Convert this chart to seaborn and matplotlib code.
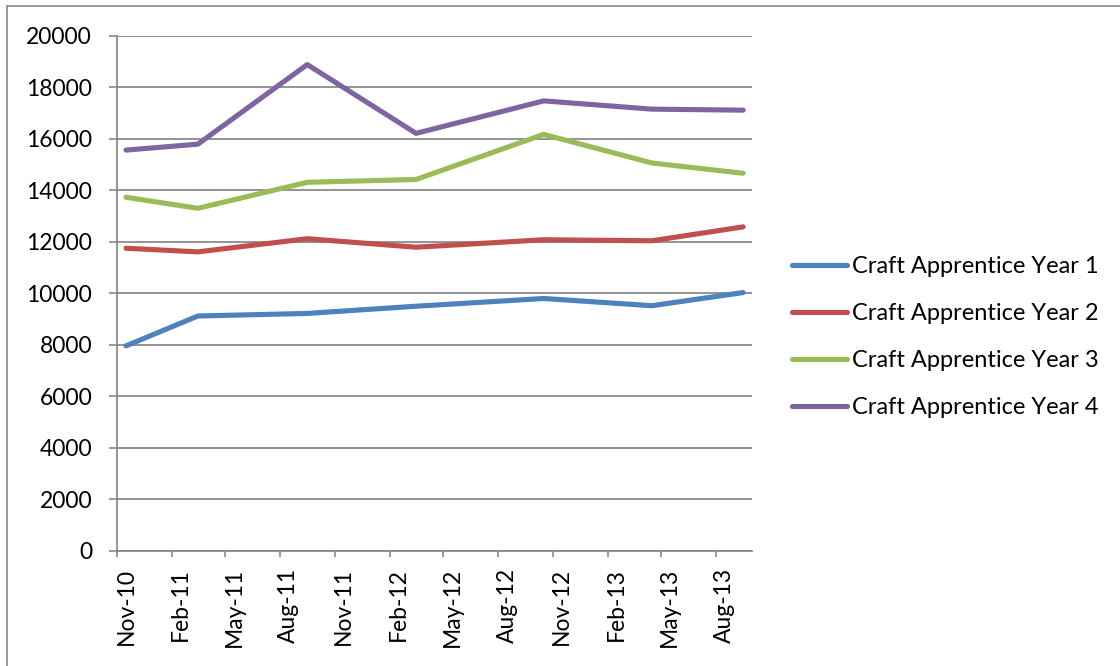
import matplotlib
matplotlib.use("Agg")
import matplotlib.pyplot as plt
import matplotlib.dates as mdates
from matplotlib.patches import Rectangle
import pandas as pd
import seaborn as sns

# Survey months and average rates for each apprentice year
months = ["2010-11", "2011-03", "2011-09", "2012-03", "2012-10", "2013-04", "2013-09"]
year1 = [7960, 9120, 9220, 9500, 9800, 9520, 10030]
year2 = [11750, 11610, 12120, 11790, 12080, 12040, 12580]
year3 = [13730, 13300, 14310, 14420, 16170, 15060, 14660]
year4 = [15560, 15790, 18880, 16210, 17470, 17150, 17110]
series_names = ["Craft Apprentice Year 1", "Craft Apprentice Year 2",
                "Craft Apprentice Year 3", "Craft Apprentice Year 4"]
colors = ["#4F81BD", "#C0504D", "#9BBB59", "#8064A2"]

# each monthly value sits in the middle of its month
periods = pd.PeriodIndex(months, freq="M")
mid = periods.start_time + (periods.end_time - periods.start_time) / 2

frames = []
for name, vals in zip(series_names, [year1, year2, year3, year4]):
    frames.append(pd.DataFrame({"date": mid, "value": vals, "series": name}))
df = pd.concat(frames, ignore_index=True)

sns.set_theme(style="white")
plt.rcParams["font.family"] = ["Lato", "DejaVu Sans"]
plt.rcParams["font.size"] = 16
plt.rcParams["text.color"] = "black"
plt.rcParams["xtick.labelcolor"] = "black"
plt.rcParams["ytick.labelcolor"] = "black"

grey = "#878787"
fig = plt.figure(figsize=(11.2, 6.66), dpi=100)
ax = fig.add_axes([0.1045, 0.1727, 0.567, 0.7737])

sns.lineplot(data=df, x="date", y="value", hue="series", palette=colors,
             linewidth=3.7, solid_capstyle="round", solid_joinstyle="round",
             ax=ax)

ax.set_xlim(pd.Timestamp("2010-11-01"), pd.Timestamp("2013-10-01"))
ax.set_ylim(0, 20000)
ax.set_yticks(range(0, 20001, 2000))
ax.set_xlabel("")
ax.set_ylabel("")

# tick marks on month boundaries, labels centred on the month
ax.xaxis.set_major_locator(mdates.MonthLocator(bymonth=[2, 5, 8, 11]))
ax.xaxis.set_major_formatter(plt.NullFormatter())
ax.xaxis.set_minor_locator(mdates.MonthLocator(bymonth=[2, 5, 8, 11], bymonthday=16))
ax.xaxis.set_minor_formatter(mdates.DateFormatter("%b-%y"))
ax.tick_params(axis="x", which="major", length=4.5, width=1.2, color=grey,
               direction="out", bottom=True)
ax.tick_params(axis="x", which="minor", length=0, pad=12, labelsize=16.5,
               labelrotation=90, bottom=True, labelcolor="black")
ax.tick_params(axis="y", length=6, width=1.2, color=grey, direction="out",
               pad=12, labelsize=16.5, left=True, labelcolor="black")

ax.yaxis.grid(True, color=grey, linewidth=1.25)
ax.xaxis.grid(False)
for side in ["top", "right"]:
    ax.spines[side].set_visible(False)
for side in ["left", "bottom"]:
    ax.spines[side].set_color(grey)
    ax.spines[side].set_linewidth(1.25)

sns.move_legend(ax, "center left", bbox_to_anchor=(0.707, 0.494),
                bbox_transform=fig.transFigure, title=None, frameon=False,
                fontsize=17, handlelength=2.33, handletextpad=0.21,
                labelspacing=1.1, borderpad=0, borderaxespad=0)
leg = ax.get_legend()
for h in leg.get_lines():
    h.set_linewidth(3.7)
    h.set_solid_capstyle("round")
for t in leg.get_texts():
    t.set_color("black")

# chart frame
fig.patches.append(Rectangle((7 / 1120, -0.1), 1.2, 1.1 - 6 / 666,
                             transform=fig.transFigure, fill=False,
                             edgecolor=grey, linewidth=1.2))

fig.savefig("out.png", dpi=100)
